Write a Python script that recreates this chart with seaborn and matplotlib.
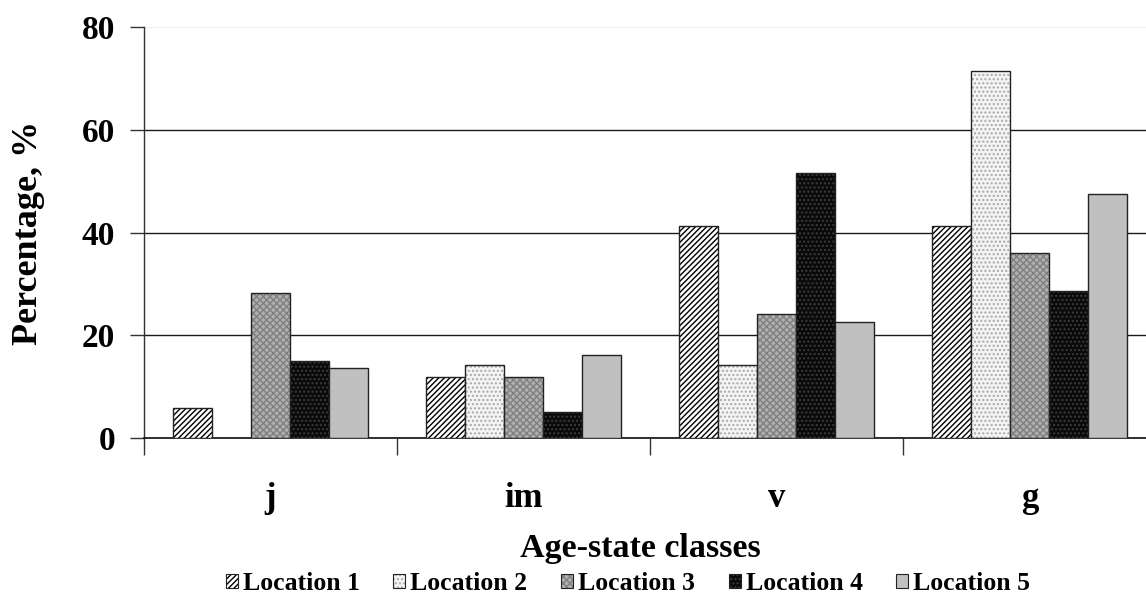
import pandas as pd
import matplotlib.pyplot as plt
import matplotlib.colors as mcolors
from matplotlib.patches import Patch
import seaborn as sns

# Data
classes = ["j", "im", "v", "g"]
locations = ["Location 1", "Location 2", "Location 3", "Location 4", "Location 5"]
loc1 = [5.8, 11.8, 41.2, 41.2]
loc2 = [0.0, 14.3, 14.2, 71.5]
loc3 = [28.2, 11.8, 24.2, 36.0]
loc4 = [14.9, 5.1, 51.5, 28.6]
loc5 = [13.7, 16.2, 22.5, 47.5]

# (face colour, hatch, hatch colour) per location
styles = [
    ("white", "//////", "black"),
    ("#f4f4f4", "....", "#a8a8a8"),
    ("#b0b0b0", "xxxxx", "#808080"),
    ("#0a0a0a", "....", "#3c3c3c"),
    ("#c0c0c0", "", "#c0c0c0"),
]


def style_patch(p, face, hatch, hcolor):
    p.set_facecolor(face)
    p.set_hatch(hatch)
    p.set_edgecolor("#222222")
    p.set_linewidth(1.0)
    p._hatch_color = mcolors.to_rgba(hcolor)


def main():
    rows = []
    for loc, vals in zip(locations, [loc1, loc2, loc3, loc4, loc5]):
        for c, v in zip(classes, vals):
            rows.append({"cls": c, "loc": loc, "value": v})
    df = pd.DataFrame(rows)

    sns.set_style("white")
    plt.rcParams["font.family"] = ["Liberation Serif", "DejaVu Serif"]
    plt.rcParams["font.weight"] = "bold"
    plt.rcParams["text.color"] = "black"
    plt.rcParams["xtick.color"] = "black"
    plt.rcParams["ytick.color"] = "black"
    plt.rcParams["axes.labelcolor"] = "black"
    plt.rcParams["hatch.linewidth"] = 1.0

    fig = plt.figure(figsize=(11.46, 5.97), dpi=100)
    ax = fig.add_axes([0.1257, 0.2663, 0.8830, 0.6885])

    sns.barplot(data=df, x="cls", y="value", hue="loc", order=classes,
                hue_order=locations, width=0.77, ax=ax, legend=False,
                errorbar=None, zorder=3)

    n = len(classes)
    for i, p in enumerate(ax.patches):
        face, hatch, hcolor = styles[i // n]
        style_patch(p, face, hatch, hcolor)
        if p.get_height() == 0:
            p.set_visible(False)

    ax.set_ylim(0, 80)
    ax.set_xlim(-0.5, len(classes) - 0.5)
    ax.set_yticks([0, 20, 40, 60, 80])
    ax.tick_params(axis="y", labelsize=24, length=10, width=1, direction="out",
                   left=True, pad=11, color="#333333")
    ax.tick_params(axis="x", labelsize=25, length=0, pad=32)
    ax.set_xticks(range(len(classes)))
    ax.set_xticklabels(classes, fontweight="bold")
    for t in ax.get_yticklabels():
        t.set_fontweight("bold")

    # category boundary ticks on the x axis
    ax.set_xticks([k - 0.5 for k in range(len(classes) + 1)], minor=True)
    ax.tick_params(axis="x", which="minor", length=12, width=1,
                   direction="out", bottom=True, color="#333333")

    ax.yaxis.grid(True, color="#1a1a1a", linewidth=1.0, zorder=0)
    ax.set_axisbelow(True)
    ax.get_ygridlines()[-1].set_color("#eeeeee")

    for s in ["top", "right"]:
        ax.spines[s].set_visible(False)
    ax.spines["left"].set_color("#333333")
    ax.spines["bottom"].set_color("#111111")
    ax.spines["left"].set_linewidth(1.0)
    ax.spines["bottom"].set_linewidth(1.2)

    ax.set_ylabel("Percentage, %", fontsize=26, fontweight="bold")
    ax.yaxis.set_label_coords(-0.098, 0.5)
    ax.set_xlabel("Age-state classes", fontsize=24.5, fontweight="bold")
    ax.xaxis.set_label_coords(0.49, -0.232)

    handles = []
    for face, hatch, hcolor in styles:
        h = Patch(facecolor=face, hatch=hatch, edgecolor="#222222", linewidth=0.8)
        h._hatch_color = mcolors.to_rgba(hcolor)
        handles.append(h)
    fig.legend(handles, locations, loc="center", bbox_to_anchor=(0.548, 0.022),
               ncol=5, frameon=False, prop={"size": 18.5, "weight": "bold"},
               handlelength=0.47, handleheight=0.47, handletextpad=0.2,
               columnspacing=1.3, borderpad=0)

    fig.savefig("out.png", dpi=100)


if __name__ == "__main__":
    main()
